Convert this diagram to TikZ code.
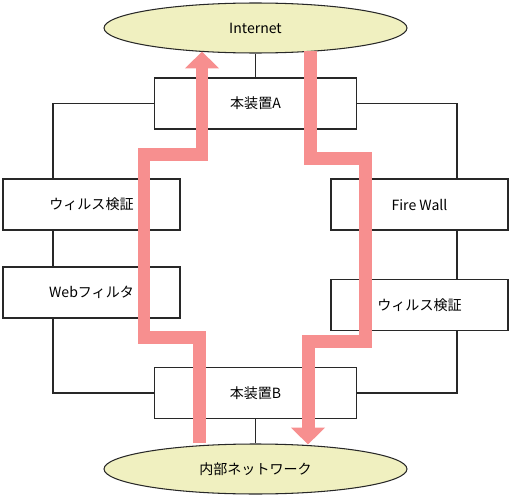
\documentclass[tikz,border=0pt]{standalone}
\usepackage{fontspec}
\setmainfont{Noto Sans CJK JP}
\usepackage{tikz}
\usetikzlibrary{
    shapes.geometric, arrows.meta, positioning, calc
}
\definecolor{netfill}{RGB}{240,240,192}
\definecolor{flowpink}{RGB}{247,143,143}
\definecolor{linegray}{RGB}{40,40,40}
\tikzset{
  net/.style={ellipse, draw=linegray, fill=netfill, line width=0.6pt,
              minimum width=6.06cm, minimum height=1.0cm, inner sep=0pt},
  dev/.style={rectangle, draw=linegray, fill=white, line width=0.6pt,
              minimum width=4.04cm, minimum height=1.02cm, inner sep=0pt},
  side/.style={dev, minimum width=3.54cm},
  wire/.style={draw=linegray, line width=0.6pt},
  flow/.style={draw=flowpink, line width=0.26cm, line join=miter,
               -{Triangle[width=0.66cm, length=0.34cm]}},
}

\begin{document}
\begin{tikzpicture}[
  x=0.02cm, y=-0.02cm,
  font=\fontsize{8}{10}\selectfont
]
  \useasboundingbox (0,0) rectangle (511,497);

  \node[net] (inet) at (255.5,28) {Internet};
  \node[dev] (devA) at (255.5,103.5) {本装置A};
  \node[side] (virusL) at (91.5,204.5) {ウィルス検証};
  \node[side] (webf) at (91.5,292.5) {Webフィルタ};
  \node[side] (fw) at (419.5,204.5) {Fire Wall};
  \node[side] (virusR) at (419.5,305) {ウィルス検証};
  \node[dev] (devB) at (255.5,393) {本装置B};
  \node[net] (lan) at (255.5,469) {内部ネットワーク};

  \coordinate (busL) at (53,0);
  \coordinate (busR) at (457,0);

  \draw[wire] (inet) -- (devA);
  \draw[wire] (devA.west) -| (virusL.north -| busL);
  \draw[wire] (virusL.south -| busL) -- (webf.north -| busL);
  \draw[wire] (webf.south -| busL) |- (devB.west);
  \draw[wire] (devA.east) -| (fw.north -| busR);
  \draw[wire] (fw.south -| busR) -- (virusR.north -| busR);
  \draw[wire] (virusR.south -| busR) |- (devB.east);
  \draw[wire] (devB) -- (lan);

  \draw[flow] ($(lan.north)+(-56,0)$) -- ++(0,-106) -- ++(-55.5,0)
    -- ++(0,-183) -- ++(58,0) -- ++(0,-103);
  \draw[flow] ($(inet.south)+(54.5,-3)$) -- ++(0,107.5) -- ++(55,0)
    -- ++(0,183) -- ++(-57,0) -- ++(0,103.5);

\end{tikzpicture}
\end{document}
